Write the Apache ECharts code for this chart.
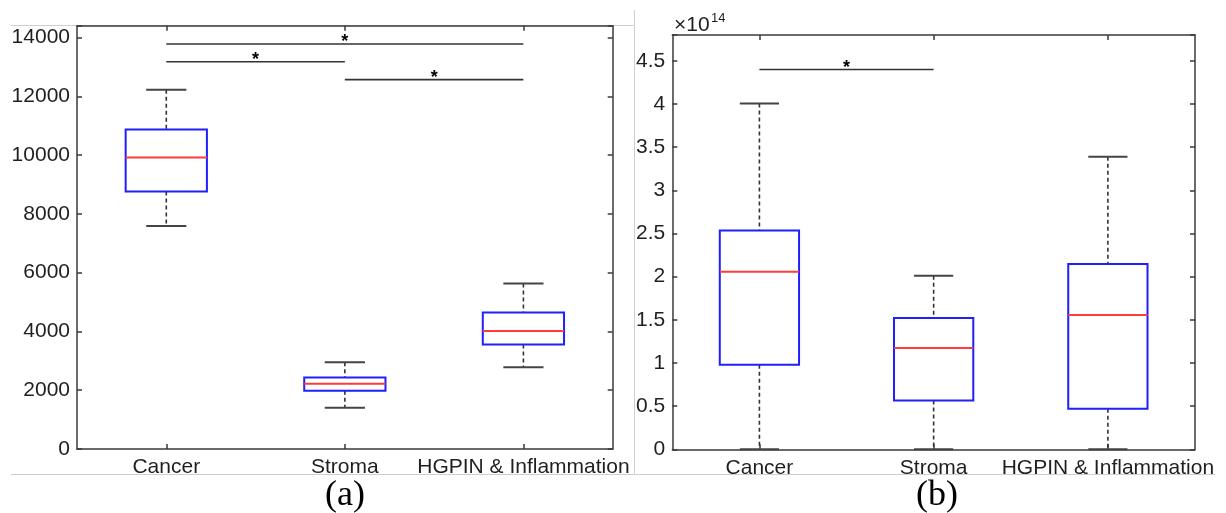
<!DOCTYPE html>
<html>
<head>
<meta charset="utf-8">
<title>boxplots</title>
<script src="https://cdn.jsdelivr.net/npm/echarts@6.0.0/dist/echarts.min.js"></script>
<style>
  html, body { margin: 0; padding: 0; background: #fff; }
  #chart { width: 1226px; height: 513px; }
</style>
</head>
<body>
<div id="chart"></div>
<script>
// categories on both panels
const categories = ['Cancer', 'Stroma', 'HGPIN & Inflammation'];

// each box: [lower whisker, Q1, median, Q3, upper whisker]
// panel (a)
const cancerA = [7582, 8761, 9915, 10866, 12224];
const stromaA = [1402, 1980, 2218, 2435, 2954];
const hgpinA = [2784, 3555, 4017, 4641, 5626];
// panel (b), in units of 1e14
const cancerB = [0, 0.979, 2.058, 2.534, 4.005];
const stromaB = [0, 0.564, 1.173, 1.521, 2.012];
const hgpinB = [0, 0.471, 1.556, 2.148, 3.39];

// significance bars: [from category, to category, bar value, star value]
const sigA = [[0, 2, 13776, 14010], [0, 1, 13175, 13413], [1, 2, 12564, 12801]];
const sigB = [[0, 1, 4.40, 4.48]];

// y axis ranges and tick step
const yMaxA = 14400, yStepA = 2000;
const yMaxB = 4.8, yStepB = 0.5;

const axisColor = '#3a3a3a';
const textColor = '#1f1f1f';
const font = 'Liberation Sans';

const chart = echarts.init(document.getElementById('chart'));

function renderBox(params, api) {
  const i = api.value(0);
  const lo = api.coord([i, api.value(1)]);
  const q1 = api.coord([i, api.value(2)]);
  const med = api.coord([i, api.value(3)]);
  const q3 = api.coord([i, api.value(4)]);
  const hi = api.coord([i, api.value(5)]);
  const band = api.size([1, 0])[0];
  const bw = band * 0.455 / 2;
  const cw = band * 0.225 / 2;
  const x = lo[0];
  const dash = { stroke: '#333', lineWidth: 1.6, lineDash: [4, 3], fill: null };
  const solid = { stroke: '#444', lineWidth: 2, fill: null };
  return {
    type: 'group',
    children: [
      { type: 'line', shape: { x1: x, y1: hi[1], x2: x, y2: q3[1] }, style: dash },
      { type: 'line', shape: { x1: x, y1: q1[1], x2: x, y2: lo[1] }, style: dash },
      { type: 'line', shape: { x1: x - cw, y1: hi[1], x2: x + cw, y2: hi[1] }, style: solid },
      { type: 'line', shape: { x1: x - cw, y1: lo[1], x2: x + cw, y2: lo[1] }, style: solid },
      { type: 'rect', shape: { x: x - bw, y: q3[1], width: 2 * bw, height: q1[1] - q3[1] },
        style: { stroke: '#1f1fff', lineWidth: 2, fill: null } },
      { type: 'line', shape: { x1: x - bw, y1: med[1], x2: x + bw, y2: med[1] },
        style: { stroke: '#ff3b3b', lineWidth: 2 } }
    ]
  };
}

function renderSig(params, api) {
  const a = api.coord([api.value(0), api.value(2)]);
  const b = api.coord([api.value(1), api.value(2)]);
  const s = api.coord([api.value(0), api.value(3)]);
  return {
    type: 'group',
    children: [
      { type: 'line', shape: { x1: a[0], y1: a[1], x2: b[0], y2: b[1] },
        style: { stroke: '#333', lineWidth: 1.6 } },
      { type: 'text', style: {
          text: '*', x: (a[0] + b[0]) / 2, y: s[1] + 5,
          align: 'center', verticalAlign: 'middle',
          fontSize: 18, fontWeight: 'bold', fontFamily: font, fill: '#000' } }
    ]
  };
}

function boxData(list) {
  return list.map((v, i) => [i].concat(v));
}

function xAxes(gridIndex) {
  const base = {
    type: 'category', data: categories, gridIndex: gridIndex, boundaryGap: true,
    axisLine: { show: true, onZero: false, lineStyle: { color: axisColor, width: 1.5 } },
    axisTick: { show: true, inside: true, length: 5, alignWithLabel: true, lineStyle: { color: axisColor, width: 1.5 } },
    splitLine: { show: false }
  };
  return [
    Object.assign({}, base, { position: 'bottom',
      axisLabel: { show: true, interval: 0, color: textColor, fontSize: 21, fontFamily: font, margin: 8 } }),
    Object.assign({}, base, { position: 'top', axisLabel: { show: false } })
  ];
}

function yAxes(gridIndex, max, step, fmt) {
  const base = {
    type: 'value', gridIndex: gridIndex, min: 0, max: max, interval: step,
    axisLine: { show: true, onZero: false, lineStyle: { color: axisColor, width: 1.5 } },
    axisTick: { show: true, inside: true, length: 5, lineStyle: { color: axisColor, width: 1.5 } },
    splitLine: { show: false }
  };
  return [
    Object.assign({}, base, { position: 'left',
      axisLabel: { show: true, color: textColor, fontSize: 21, fontFamily: font, margin: 7, formatter: fmt } }),
    Object.assign({}, base, { position: 'right', axisLabel: { show: false } })
  ];
}

// hide the label at the axis max (not a multiple of the step)
const fmtA = v => (Math.abs(v / yStepA - Math.round(v / yStepA)) > 1e-6 ? '' : String(v));
const fmtB = v => (Math.abs(v / yStepB - Math.round(v / yStepB)) > 1e-6 ? '' : String(+v.toFixed(1)));

chart.setOption({
  backgroundColor: '#fff',
  animation: false,
  grid: [
    { left: 77, top: 25.7, width: 535.7, height: 423.3 },
    { left: 672.3, top: 35, width: 522.7, height: 414.3 }
  ],
  xAxis: xAxes(0).concat(xAxes(1)),
  yAxis: yAxes(0, yMaxA, yStepA, fmtA).concat(yAxes(1, yMaxB, yStepB, fmtB)),
  series: [
    { type: 'custom', xAxisIndex: 0, yAxisIndex: 0, renderItem: renderBox,
      encode: { x: 0, y: [1, 2, 3, 4, 5] }, data: boxData([cancerA, stromaA, hgpinA]) },
    { type: 'custom', xAxisIndex: 0, yAxisIndex: 0, renderItem: renderSig,
      encode: { x: [0, 1], y: [2, 3] }, data: sigA },
    { type: 'custom', xAxisIndex: 2, yAxisIndex: 2, renderItem: renderBox,
      encode: { x: 0, y: [1, 2, 3, 4, 5] }, data: boxData([cancerB, stromaB, hgpinB]) },
    { type: 'custom', xAxisIndex: 2, yAxisIndex: 2, renderItem: renderSig,
      encode: { x: [0, 1], y: [2, 3] }, data: sigB }
  ],
  graphic: [
    // thin frames of the two sub-figures
    { type: 'polyline', shape: { points: [[11, 25.5], [634, 25.5]] }, style: { stroke: '#cfcfcf', lineWidth: 1 }, silent: true },
    { type: 'polyline', shape: { points: [[634.5, 10], [634.5, 474.5]] }, style: { stroke: '#cfcfcf', lineWidth: 1 }, silent: true },
    { type: 'polyline', shape: { points: [[11, 474.5], [1215, 474.5]] }, style: { stroke: '#cfcfcf', lineWidth: 1 }, silent: true },
    // exponent of panel (b)
    { type: 'text', x: 674, y: 36, style: { text: '×10', fontSize: 21, fontFamily: font, fill: textColor, verticalAlign: 'bottom' } },
    { type: 'text', x: 711, y: 25, style: { text: '14', fontSize: 13, fontFamily: font, fill: textColor, verticalAlign: 'bottom' } },
    // panel captions
    { type: 'text', x: 345, y: 496, style: { text: '(a)', fontSize: 36, fontFamily: 'Liberation Serif', fill: '#000', align: 'center', verticalAlign: 'middle' } },
    { type: 'text', x: 937, y: 496, style: { text: '(b)', fontSize: 36, fontFamily: 'Liberation Serif', fill: '#000', align: 'center', verticalAlign: 'middle' } }
  ]
});
</script>
</body>
</html>
